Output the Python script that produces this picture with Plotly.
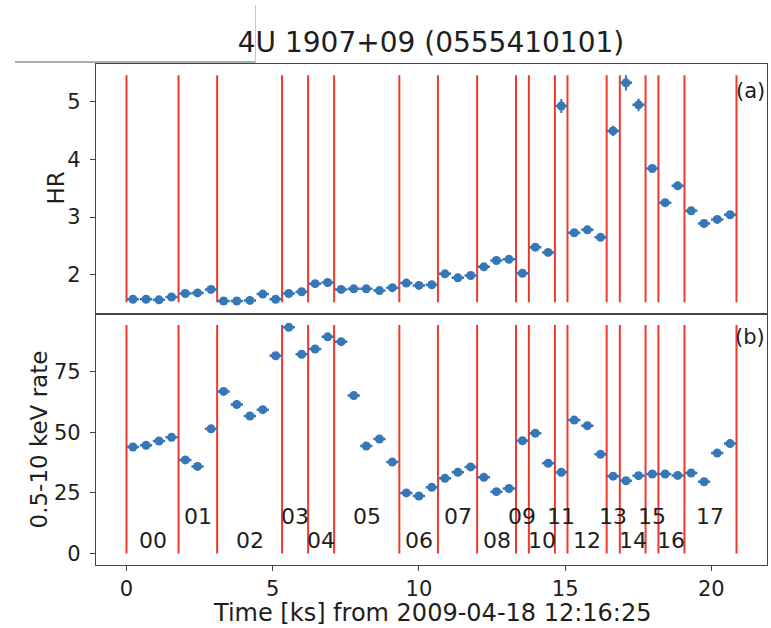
import plotly.graph_objects as go

# ---- data -------------------------------------------------------------
time_ks = [0.22, 0.67, 1.11, 1.54, 2.01, 2.43, 2.89, 3.32, 3.77, 4.22, 4.66,
           5.10, 5.55, 5.99, 6.45, 6.88, 7.34, 7.77, 8.20, 8.65, 9.09, 9.57,
           10.00, 10.44, 10.89, 11.33, 11.77, 12.22, 12.65, 13.08, 13.54, 13.98,
           14.42, 14.87, 15.31, 15.76, 16.21, 16.64, 17.08, 17.51, 17.98, 18.42,
           18.85, 19.31, 19.75, 20.20, 20.64]
time_halfbin = 0.21

hardness = [1.58, 1.58, 1.57, 1.62, 1.68, 1.69, 1.75, 1.55, 1.55, 1.56, 1.67,
            1.58, 1.68, 1.71, 1.85, 1.87, 1.75, 1.76, 1.76, 1.73, 1.78, 1.86,
            1.82, 1.83, 2.02, 1.95, 1.99, 2.14, 2.25, 2.27, 2.03, 2.48, 2.39,
            4.92, 2.73, 2.78, 2.65, 4.49, 5.32, 4.94, 3.84, 3.25, 3.54, 3.11,
            2.89, 2.96, 3.04]
hardness_err = [0.02, 0.02, 0.02, 0.02, 0.02, 0.02, 0.02, 0.02, 0.02, 0.02, 0.02,
                0.02, 0.02, 0.02, 0.02, 0.02, 0.02, 0.02, 0.02, 0.02, 0.02, 0.02,
                0.02, 0.02, 0.03, 0.03, 0.03, 0.03, 0.03, 0.03, 0.03, 0.03, 0.03,
                0.12, 0.04, 0.04, 0.04, 0.09, 0.13, 0.11, 0.06, 0.05, 0.06, 0.04,
                0.04, 0.04, 0.04]

rate = [43.9, 44.6, 46.4, 47.9, 38.6, 35.9, 51.4, 66.8, 61.4, 56.7, 59.3,
        81.5, 93.2, 82.1, 84.3, 89.3, 87.3, 65.1, 44.3, 47.2, 37.7, 25.0,
        23.7, 27.3, 31.0, 33.5, 35.7, 31.4, 25.5, 26.8, 46.5, 49.6, 37.2,
        33.5, 55.0, 52.7, 40.9, 31.9, 30.0, 32.1, 32.8, 32.8, 32.2, 33.2,
        29.6, 41.4, 45.3]
rate_err = [1.0] * len(rate)

# boundaries of the pointing segments (ks) and their labels
segment_edges = [0.0, 1.78, 3.10, 5.32, 6.21, 7.10, 9.33, 10.65, 11.99, 13.32,
                 13.76, 14.65, 15.08, 16.42, 16.87, 17.75, 18.19, 19.08, 20.86]
segment_labels = ["00", "01", "02", "03", "04", "05", "06", "07", "08",
                  "09", "10", "11", "12", "13", "14", "15", "16", "17"]
segment_label_y = [5.5, 15.4]   # even / odd rows

x_ticks = [0, 5, 10, 15, 20]
hr_ticks = [2, 3, 4, 5]
rate_ticks = [0, 25, 50, 75]

title_text = "4U 1907+09 (0555410101)"
x_title = "Time [ks] from 2009-04-18 12:16:25"

# ---- style ------------------------------------------------------------
FONT = "DejaVu Sans"
TXT = "#1e1e1e"
BLUE = "#3677b8"
RED = "#ee3a2c"
AX = "#454545"

W, H = 771, 628
ML, MR, MT, MB = 96, 4, 64, 63
PW, PH = W - ML - MR, H - MT - MB


def px_x(px):
    return (px - ML) / PW


def px_y(py):
    return (H - MB - py) / PH


def padded(lo, hi, frac=0.05):
    span = hi - lo
    return [lo - frac * span, hi + frac * span]


hr_lo = min(h - e for h, e in zip(hardness, hardness_err))
hr_hi = max(h + e for h, e in zip(hardness, hardness_err))
rate_lo = 0.0
rate_hi = max(r + e for r, e in zip(rate, rate_err))

fig = go.Figure()

# segment boundary lines
for xa, ya, lo, hi in (("x", "y", hr_lo, hr_hi), ("x2", "y2", rate_lo, rate_hi)):
    xs, ys = [], []
    for e in segment_edges:
        xs += [e, e, None]
        ys += [lo, hi, None]
    fig.add_trace(go.Scatter(x=xs, y=ys, mode="lines", xaxis=xa, yaxis=ya,
                             line=dict(color=RED, width=2), hoverinfo="skip",
                             showlegend=False))

marker_style = dict(color=BLUE, size=9, symbol="circle")
xerr_style = dict(type="constant", value=time_halfbin, color=BLUE,
                  thickness=2.5, width=0)

# hardness ratio
fig.add_trace(go.Scatter(
    x=time_ks, y=hardness, mode="markers", xaxis="x", yaxis="y",
    marker=marker_style, error_x=xerr_style,
    error_y=dict(type="data", array=hardness_err, color=BLUE,
                 thickness=2, width=0),
    showlegend=False))

# count rate
fig.add_trace(go.Scatter(
    x=time_ks, y=rate, mode="markers", xaxis="x2", yaxis="y2",
    marker=marker_style, error_x=xerr_style,
    error_y=dict(type="data", array=rate_err, color=BLUE,
                 thickness=2, width=0),
    showlegend=False))

x_range = padded(segment_edges[0], segment_edges[-1])
split = px_y(313.5)

common_axis = dict(showgrid=False, zeroline=False, showline=True, mirror=True,
                   linecolor=AX, linewidth=1.2, ticks="outside", ticklen=5,
                   tickcolor=AX, tickwidth=1,
                   tickfont=dict(family=FONT, size=21, color=TXT))

fig.update_layout(
    width=W, height=H,
    margin=dict(l=ML, r=MR, t=MT, b=MB),
    paper_bgcolor="white", plot_bgcolor="white",
    font=dict(family=FONT, color=TXT),
    xaxis=dict(common_axis, domain=[0, 1], range=x_range, anchor="y",
               showticklabels=False, ticks="", tickvals=x_ticks),
    yaxis=dict(common_axis, domain=[split, 1], range=padded(hr_lo, hr_hi),
               tickvals=hr_ticks, anchor="x", ticklabelstandoff=5),
    xaxis2=dict(common_axis, domain=[0, 1], range=x_range, anchor="y2",
                tickvals=x_ticks),
    yaxis2=dict(common_axis, domain=[0, split], range=padded(rate_lo, rate_hi),
                tickvals=rate_ticks, anchor="x2", ticklabelstandoff=5),
    title=dict(text=title_text, x=px_x(431), xref="paper", xanchor="center",
               y=1 - 42 / H, yref="container", yanchor="middle",
               font=dict(family=FONT, size=28, color=TXT)),
)

ann = []
# axis titles
ann.append(dict(text="HR", xref="paper", yref="paper", x=px_x(55), y=px_y(188.5),
                textangle=-90, showarrow=False, xanchor="center", yanchor="middle",
                font=dict(family=FONT, size=23, color=TXT)))
ann.append(dict(text="0.5-10 keV rate", xref="paper", yref="paper", x=px_x(39),
                y=px_y(439.5), textangle=-90, showarrow=False,
                xanchor="center", yanchor="middle",
                font=dict(family=FONT, size=23, color=TXT)))
ann.append(dict(text=x_title, xref="paper", yref="paper", x=px_x(432.5),
                y=px_y(613), showarrow=False, xanchor="center", yanchor="middle",
                font=dict(family=FONT, size=24, color=TXT)))
# panel tags
ann.append(dict(text="(a)", xref="x domain", yref="y domain", x=1.0, y=0.89,
                showarrow=False, xanchor="right", yanchor="middle",
                font=dict(family=FONT, size=21, color=TXT)))
ann.append(dict(text="(b)", xref="x2 domain", yref="y2 domain", x=1.0, y=0.905,
                showarrow=False, xanchor="right", yanchor="middle",
                font=dict(family=FONT, size=21, color=TXT)))
# segment labels
for i, lab in enumerate(segment_labels):
    xc = 0.5 * (segment_edges[i] + segment_edges[i + 1])
    ann.append(dict(text=lab, x=xc, y=segment_label_y[i % 2], xref="x2", yref="y2",
                    showarrow=False, xanchor="center", yanchor="middle",
                    font=dict(family=FONT, size=22, color=TXT)))
fig.update_layout(annotations=ann)

# thin frame lines left over at the top-left corner of the canvas
fig.add_shape(type="line", xref="paper", yref="paper",
              x0=px_x(15), x1=px_x(255.5), y0=px_y(62), y1=px_y(62),
              line=dict(color="#5a5a5a", width=1))
fig.add_shape(type="line", xref="paper", yref="paper",
              x0=px_x(255.5), x1=px_x(255.5), y0=px_y(5), y1=px_y(62),
              line=dict(color="#c8c8c8", width=1))

fig.write_html("out.html")
